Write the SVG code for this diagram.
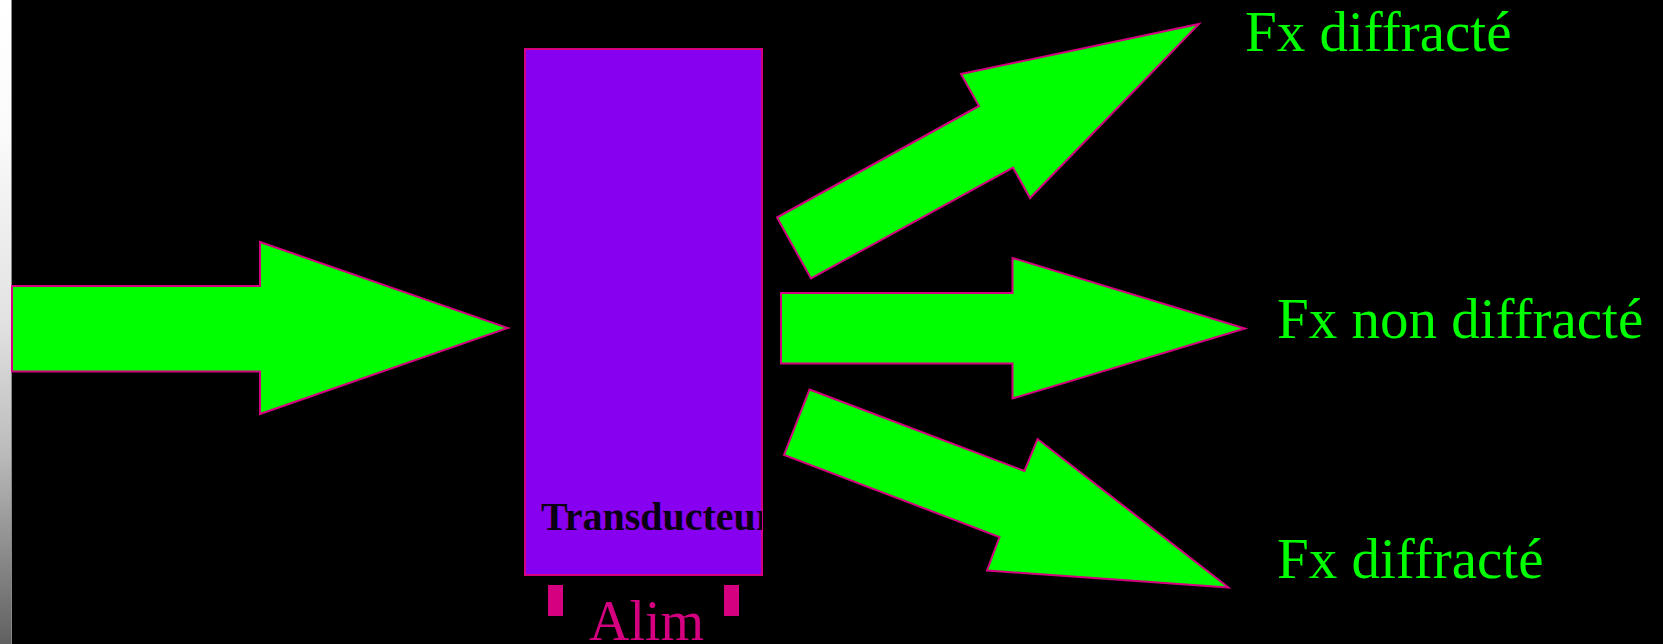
<svg xmlns="http://www.w3.org/2000/svg" width="1663" height="644" viewBox="0 0 1663 644">
  <style>
    .arrow { fill: #00FF00; stroke: #D4007F; stroke-width: 2; stroke-linejoin: miter; }
    .label { font-family: "Liberation Serif", "DejaVu Serif", serif; font-size: 57px; fill: #00FF00; }
    .pad { fill: #D4007F; }
  </style>
  <defs>
    <linearGradient id="strip" x1="0" y1="0" x2="0" y2="1">
      <stop offset="0" stop-color="#ffffff"/>
      <stop offset="0.2" stop-color="#fbfbfb"/>
      <stop offset="0.5" stop-color="#e2e2e2"/>
      <stop offset="0.7" stop-color="#bcbcbc"/>
      <stop offset="1" stop-color="#606060"/>
    </linearGradient>
    <clipPath id="tclip">
      <rect x="525" y="49" width="237" height="526"/>
    </clipPath>
  </defs>
  <rect x="0" y="0" width="1663" height="644" fill="#000"/>
  <rect x="0" y="0" width="11" height="644" fill="url(#strip)"/>
  <rect x="11" y="0" width="1" height="644" fill="#888"/>

  <g id="input-arrow">
    <polygon class="arrow" points="12,286 260,286 260,242 508,328 260,414 260,371.5 12,371.5"/>
  </g>

  <g id="transducteur">
    <rect x="525" y="49" width="237" height="526" fill="#8800F0" stroke="#D4007F" stroke-width="2"/>
    <text x="541" y="530" clip-path="url(#tclip)" font-family="'Liberation Serif', 'DejaVu Serif', serif" font-weight="bold" font-size="40" fill="#0a0014">Transducteur</text>
  </g>

  <g id="alim">
    <rect class="pad" x="548" y="585" width="15" height="31"/>
    <rect class="pad" x="724" y="585" width="15" height="31"/>
    <text x="589" y="640" font-family="'Liberation Serif', 'DejaVu Serif', serif" font-size="56" fill="#D4007F">Alim</text>
  </g>

  <g id="connectors">
    <polygon id="arrow-up" class="arrow" points="777,217.5 979,106 961,74 1199,24 1030,198 1013,167.5 811,278.5"/>
    <polygon id="arrow-mid" class="arrow" points="781,293 1012.5,293 1012.5,258 1245,328.5 1012.5,398.5 1012.5,363.5 781,363.5"/>
    <polygon id="arrow-down" class="arrow" points="809.5,389.5 1024.5,471 1037.5,439 1228.5,587.5 987,570.5 999.5,537 784,455"/>
  </g>

  <g id="labels">
    <text class="label" x="1245" y="50.5">Fx diffracté</text>
    <text class="label" x="1277" y="337.5">Fx non diffracté</text>
    <text class="label" x="1277" y="578">Fx diffracté</text>
  </g>
</svg>
